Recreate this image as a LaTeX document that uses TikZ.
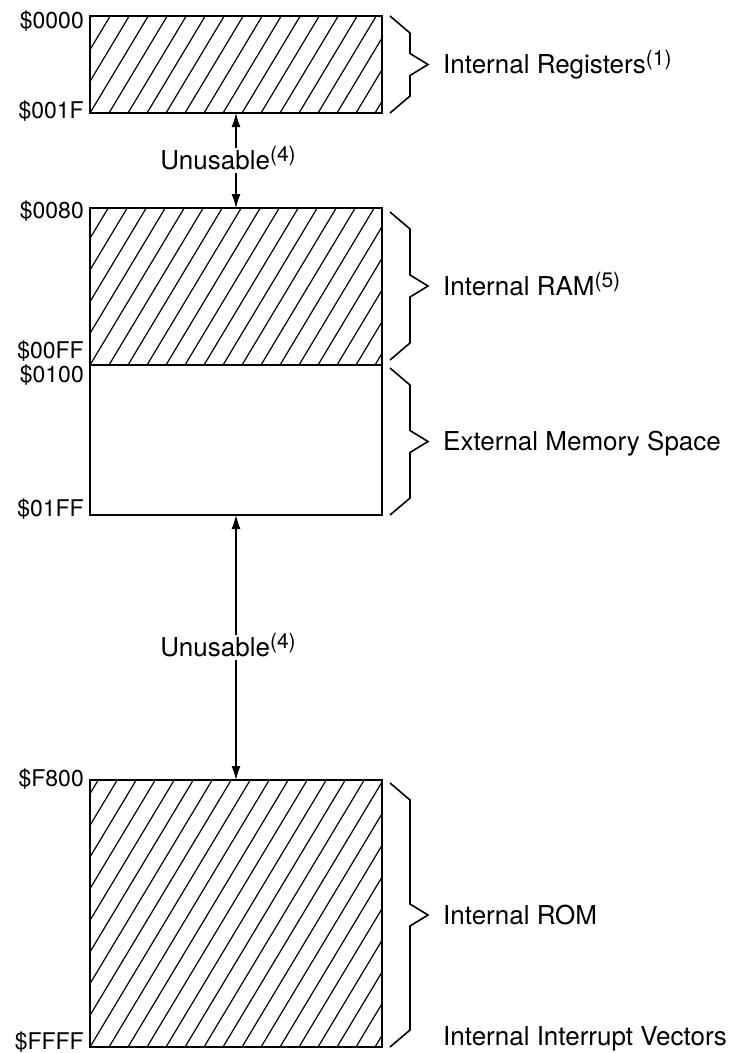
\documentclass[tikz,border=0pt]{standalone}
\usepackage{fontspec}
\setmainfont{TeX Gyre Heros}
\usetikzlibrary{arrows.meta,calc,positioning}

% angular brace beside a memory block: upper end, lower end, name of its tip
\newcommand{\memBrace}[3]{%
  \draw[bracepen] let \p1=(#1), \p2=(#2), \n1={(\y1+\y2)/2} in
    (\x1,\y1) -- (\x1+20pt,\y1-17pt) -- (\x1+20pt,\n1+11pt)
    -- (\x1+38pt,\n1) coordinate (#3)
    -- (\x1+20pt,\n1-11pt) -- (\x1+20pt,\y2+17pt) -- (\x2,\y2);}
% footnote mark after a label
\newcommand{\fnmark}[1]{\raisebox{8pt}{\fontsize{21}{21}\selectfont(#1)}}

\begin{document}
\begin{tikzpicture}[
  x=1pt,y=-1pt,
  >={Latex[length=14pt,width=9pt]},
  membox/.style={draw,line width=2.4pt,minimum width=292pt,inner sep=0pt,outer sep=0pt},
  hatch/.style={path picture={
    \foreach \i in {-16,...,16}
      \draw[line width=1.2pt]
        ($(path picture bounding box.south west)+({\i*19},0)$) -- ++(180,-300);}},
  addr/.style={anchor=east,inner sep=0pt,text height=16.5pt,text depth=0pt,
    font=\fontsize{23}{28}\selectfont},
  region/.style={inner sep=0pt,text height=18.7pt,text depth=0pt,
    font=\fontsize{26}{31}\selectfont},
  gapnote/.style={region,fill=white,inner sep=3pt,xshift=-8pt},
  bracepen/.style={line width=1.6pt,line join=miter},
  unusable/.style={<->,line width=1.1pt}
]
  \useasboundingbox (0,0) rectangle (739,1053);

  % memory blocks
  \node[membox,hatch,minimum height=97pt] (regs) at (236,64.5) {};
  \node[membox,hatch,minimum height=157pt,below=95pt of regs] (ram) {};
  \node[membox,minimum height=150pt,below=0pt of ram] (ext) {};
  \node[membox,hatch,minimum height=267pt,below=265pt of ext] (rom) {};

  % addresses
  \node[addr] (a0000) at ([xshift=-6pt,yshift=-4pt]regs.north west) {\$0000};
  \node[addr] (a001F) at ([xshift=-6pt,yshift=3pt]regs.south west) {\$001F};
  \node[addr] (a0080) at ([xshift=-6pt,yshift=-2pt]ram.north west) {\$0080};
  \node[addr] (a00FF) at ([xshift=-6pt,yshift=15pt]ram.south west) {\$00FF};
  \node[addr] (a0100) at ([xshift=-6pt,yshift=-9pt]ext.north west) {\$0100};
  \node[addr] (a01FF) at ([xshift=-6pt,yshift=7pt]ext.south west) {\$01FF};
  \node[addr] (aF800) at ([xshift=-6pt,yshift=2pt]rom.north west) {\$F800};
  \node[addr] (aFFFF) at ([xshift=-6pt,yshift=6pt]rom.south west) {\$FFFF};

  % gaps
  \draw[unusable] (regs.south) -- node[gapnote] (gap1) {Unusable\fnmark{4}} (ram.north);
  \draw[unusable] (ext.south) -- node[gapnote] (gap2) {Unusable\fnmark{4}} (rom.north);

  % braces and region names
  \memBrace{[xshift=8pt]regs.north east}{[xshift=8pt]regs.south east}{tregs}
  \memBrace{[xshift=8pt,yshift=-4pt]ram.north east}{[xshift=8pt,yshift=5pt]ram.south east}{tram}
  \memBrace{[xshift=8pt,yshift=-3pt]ext.north east}{[xshift=8pt]ext.south east}{text}
  \memBrace{[xshift=8pt,yshift=-3pt]rom.north east}{[xshift=8pt]rom.south east}{trom}

  \node[region,right=15pt of tregs] (lregs) {Internal Registers\fnmark{1}};
  \node[region,right=15pt of tram] (lram) {Internal RAM\fnmark{5}};
  \node[region,right=15pt of text] (lext) {External Memory Space};
  \node[region,right=15pt of trom] (lrom) {Internal ROM};
  \node[region,anchor=base west] (lvec) at ([yshift=2pt]lrom.west |- rom.south) {Internal Interrupt Vectors};
\end{tikzpicture}
\end{document}
